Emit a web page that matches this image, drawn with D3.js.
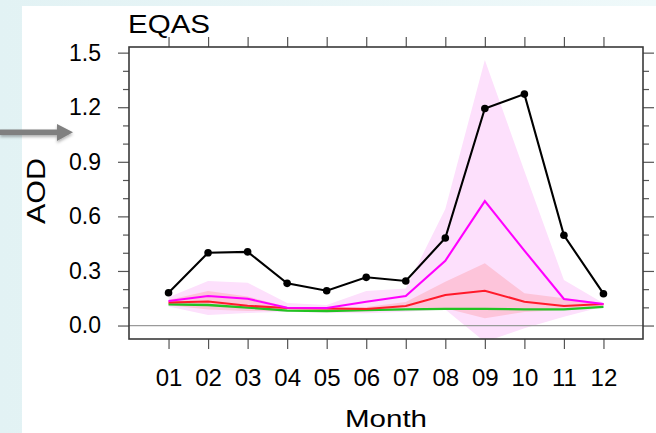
<!DOCTYPE html>
<html><head><meta charset="utf-8">
<script src="https://cdn.jsdelivr.net/npm/d3@7"></script>
<style>html,body{margin:0;padding:0;overflow:hidden;background:#fff} svg{display:block}</style>
</head><body><svg id="c" width="656" height="433"></svg>
<script>
// ---- data ----
const months = ["01","02","03","04","05","06","07","08","09","10","11","12"];
const obsAOD   = [0.180,0.400,0.405,0.232,0.191,0.265,0.245,0.481,1.193,1.272,0.496,0.175];
const meanAOD  = [0.135,0.162,0.147,0.098,0.096,0.131,0.162,0.356,0.684,0.412,0.146,0.118];
const redAOD   = [0.127,0.132,0.109,0.096,0.094,0.091,0.107,0.168,0.191,0.131,0.107,0.118];
const greenAOD = [0.116,0.113,0.099,0.082,0.080,0.085,0.089,0.092,0.092,0.089,0.089,0.103];
const meanUpper = [0.155,0.245,0.235,0.124,0.113,0.190,0.204,0.640,1.459,0.850,0.250,0.122];
const meanLower = [0.105,0.058,0.069,0.076,0.070,0.067,0.076,0.088,-0.090,-0.015,0.048,0.104];
const redUpper  = [0.140,0.190,0.160,0.102,0.100,0.102,0.130,0.240,0.342,0.177,0.150,0.124];
const redLower  = [0.112,0.088,0.080,0.080,0.079,0.078,0.085,0.095,0.040,0.075,0.085,0.106];
const yMajor = [0.0,0.3,0.6,0.9,1.2,1.5];
const yMinor = [0.1,0.2,0.4,0.5,0.7,0.8,1.0,1.1,1.3,1.4];
const titleText = "EQAS", xTitle = "Month", yTitle = "AOD";

// ---- layout ----
const svg = d3.select("#c");
const FONT = "'Liberation Sans', Arial, Helvetica, sans-serif";
const L = 129, R = 643, T = 47, B = 339;
const x = d3.scaleLinear().domain([0, 13]).range([L, R]);
const y = d3.scaleLinear().domain([-0.074, 1.531]).range([B, T]);

// background
const defs = svg.append("defs");
const g1 = defs.append("linearGradient").attr("id","bg").attr("x1","0").attr("x2","1").attr("y1","0").attr("y2","0");
g1.append("stop").attr("offset","0").attr("stop-color","#e2f2f4");
g1.append("stop").attr("offset","1").attr("stop-color","#eff9fa");
svg.append("rect").attr("width",656).attr("height",433).attr("fill","url(#bg)");
svg.append("rect").attr("x",22).attr("y",6).attr("width",634).attr("height",427).attr("fill","#fff");

// arrow
const sh = defs.append("filter").attr("id","sh").attr("x","-20%").attr("y","-50%").attr("width","140%").attr("height","250%");
sh.append("feDropShadow").attr("dx",0).attr("dy",2).attr("stdDeviation",1.5).attr("flood-color","#000").attr("flood-opacity",0.3);
const ag = svg.append("g").attr("filter","url(#sh)");
ag.append("rect").attr("x",0).attr("y",129.5).attr("width",59).attr("height",5.5).attr("fill","#808080");
ag.append("path").attr("d","M57,124 L73,132.3 L57,141 Z").attr("fill","#808080");

defs.append("clipPath").attr("id","clip").append("rect").attr("x",L).attr("y",T).attr("width",R-L).attr("height",B-T);
const plot = svg.append("g").attr("clip-path","url(#clip)");
const idx = d3.range(12);

const area = (up, lo) => d3.area().x(i => x(i+1)).y0(i => y(lo[i])).y1(i => y(up[i]));
plot.append("path").datum(idx).attr("d", area(meanUpper, meanLower)).attr("fill","#fde0fc");
plot.append("path").datum(idx).attr("d", area(redUpper, redLower)).attr("fill","#fdc4da");

// zero line
plot.append("line").attr("x1",L).attr("x2",R).attr("y1",y(0)).attr("y2",y(0)).attr("stroke","#9a9a9a").attr("stroke-width",1.2);

const line = arr => d3.line().x(i => x(i+1)).y(i => y(arr[i]));
plot.append("path").datum(idx).attr("d", line(greenAOD)).attr("fill","none").attr("stroke","#22c322").attr("stroke-width",2.3);
plot.append("path").datum(idx).attr("d", line(redAOD)).attr("fill","none").attr("stroke","#ff1a2a").attr("stroke-width",2.1);
plot.append("path").datum(idx).attr("d", line(meanAOD)).attr("fill","none").attr("stroke","#ff00ff").attr("stroke-width",2.1);
plot.append("path").datum(idx).attr("d", line(obsAOD)).attr("fill","none").attr("stroke","#000").attr("stroke-width",2.1);
plot.selectAll("circle").data(idx).enter().append("circle")
  .attr("cx", i => x(i+1)).attr("cy", i => y(obsAOD[i])).attr("r",3.8).attr("fill","#000");

// axes
const tickCol = "#555";
const axL = d3.axisLeft(y).tickValues(yMajor).tickSize(11).tickFormat(d3.format(".1f"));
const gl = svg.append("g").attr("transform",`translate(${L},0)`).call(axL);
gl.select(".domain").remove();
gl.selectAll(".tick line").attr("stroke",tickCol).attr("stroke-width",1.2);
gl.selectAll(".tick text").attr("x",-28).attr("font-size",23).attr("font-family",FONT).attr("fill","#000");
const glm = svg.append("g").attr("transform",`translate(${L},0)`).call(d3.axisLeft(y).tickValues(yMinor).tickSize(6).tickFormat(""));
glm.select(".domain").remove(); glm.selectAll(".tick line").attr("stroke",tickCol).attr("stroke-width",1.2);

const gr = svg.append("g").attr("transform",`translate(${R},0)`).call(d3.axisRight(y).tickValues(yMajor).tickSize(11).tickFormat(""));
gr.select(".domain").remove(); gr.selectAll(".tick line").attr("stroke",tickCol).attr("stroke-width",1.2);
const grm = svg.append("g").attr("transform",`translate(${R},0)`).call(d3.axisRight(y).tickValues(yMinor).tickSize(6).tickFormat(""));
grm.select(".domain").remove(); grm.selectAll(".tick line").attr("stroke",tickCol).attr("stroke-width",1.2);

const axB = d3.axisBottom(x).tickValues(d3.range(1,13)).tickSize(10).tickFormat(d => months[d-1]);
const gb = svg.append("g").attr("transform",`translate(0,${B})`).call(axB);
gb.select(".domain").remove();
gb.selectAll(".tick line").attr("stroke",tickCol).attr("stroke-width",1.2);
gb.selectAll(".tick text").attr("y",30).attr("dy","0.71em").attr("font-size",24).attr("font-family",FONT).attr("fill","#000");
const gt = svg.append("g").attr("transform",`translate(0,${T})`).call(d3.axisTop(x).tickValues(d3.range(1,13)).tickSize(10).tickFormat(""));
gt.select(".domain").remove(); gt.selectAll(".tick line").attr("stroke",tickCol).attr("stroke-width",1.2);

// frame
svg.append("rect").attr("x",L).attr("y",T).attr("width",R-L).attr("height",B-T).attr("fill","none").attr("stroke","#3a3a3a").attr("stroke-width",1.6);

// titles
svg.append("text").attr("x",128).attr("y",33).attr("font-size",25).attr("font-family",FONT)
  .attr("textLength",82).attr("lengthAdjust","spacingAndGlyphs").text(titleText);
svg.append("text").attr("x",386).attr("y",427).attr("text-anchor","middle").attr("font-size",24).attr("font-family",FONT)
  .attr("textLength",82).attr("lengthAdjust","spacingAndGlyphs").text(xTitle);
svg.append("text").attr("transform","translate(45,191) rotate(-90)").attr("text-anchor","middle").attr("font-size",25).attr("font-family",FONT)
  .attr("textLength",66).attr("lengthAdjust","spacingAndGlyphs").text(yTitle);
</script></body></html>
